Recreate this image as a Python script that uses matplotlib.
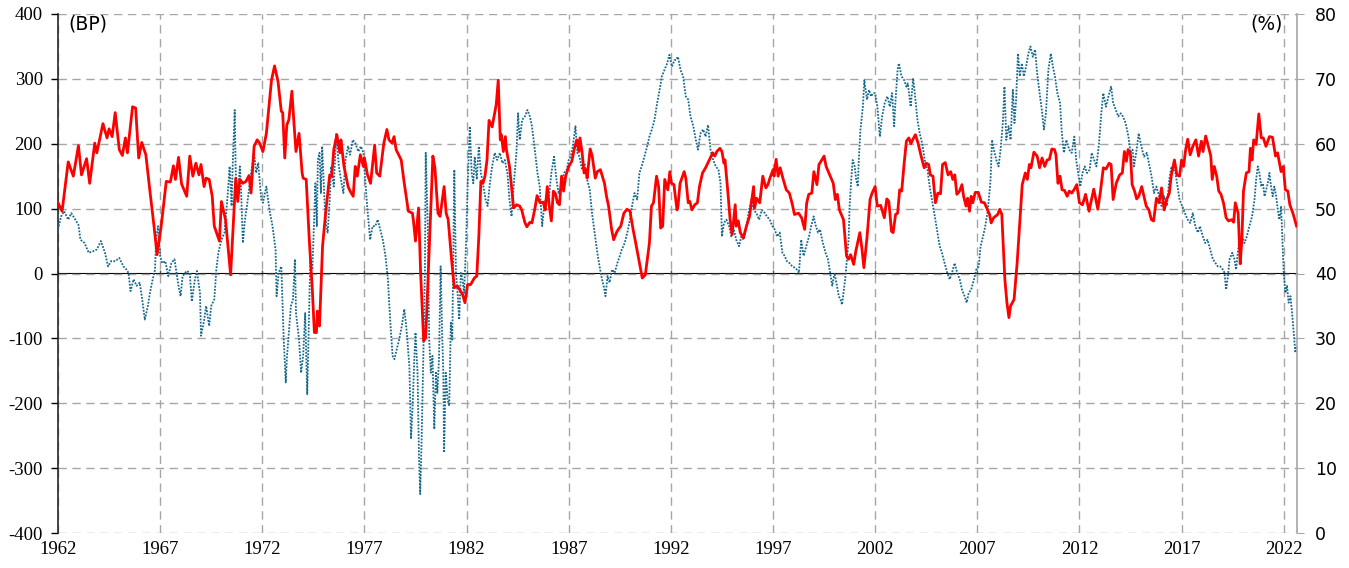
import matplotlib
matplotlib.use("Agg")
import matplotlib.pyplot as plt

# ---------------- data ----------------
# Red series (right axis, %)
red_years = [1962.0, 1962.2, 1962.5, 1962.75, 1963.0, 1963.15, 1963.4, 1963.55, 1963.8, 1963.9,
             1964.2, 1964.4, 1964.5, 1964.65, 1964.8, 1965.0, 1965.15, 1965.3, 1965.4, 1965.65,
             1965.8, 1965.95, 1966.1, 1966.3, 1966.5, 1966.7, 1966.85, 1967.05, 1967.3, 1967.5,
             1967.65, 1967.75, 1967.9, 1968.05, 1968.3, 1968.45, 1968.6, 1968.75, 1968.9, 1969.0,
             1969.15, 1969.25, 1969.4, 1969.55, 1969.65, 1969.9, 1970.0, 1970.2, 1970.45, 1970.7,
             1970.8, 1970.9, 1971.05, 1971.2, 1971.35, 1971.45, 1971.6, 1971.75, 1971.87, 1972.03,
             1972.2, 1972.45, 1972.6, 1972.77, 1972.93, 1973.0, 1973.1, 1973.2, 1973.3, 1973.45,
             1973.55, 1973.65, 1973.8, 1973.95, 1974.0, 1974.15, 1974.3, 1974.45, 1974.55, 1974.65,
             1974.7, 1974.8, 1974.95, 1975.1, 1975.3, 1975.4, 1975.5, 1975.65, 1975.8, 1975.85,
             1976.0, 1976.2, 1976.3, 1976.45, 1976.55, 1976.65, 1976.8, 1976.95, 1977.0, 1977.15,
             1977.3, 1977.5, 1977.6, 1977.75, 1977.95, 1978.1, 1978.2, 1978.35, 1978.45, 1978.55,
             1978.8, 1978.95, 1979.15, 1979.35, 1979.4, 1979.5, 1979.65, 1979.75, 1979.9, 1980.0,
             1980.15, 1980.25, 1980.35, 1980.45, 1980.6, 1980.7, 1980.9, 1981.0, 1981.1, 1981.25,
             1981.4, 1981.55, 1981.7, 1981.8, 1981.92, 1982.05, 1982.2, 1982.38, 1982.5, 1982.6,
             1982.7, 1982.8, 1982.9, 1983.0, 1983.1, 1983.25, 1983.45, 1983.55, 1983.65, 1983.7,
             1983.8, 1983.9, 1983.95, 1984.1, 1984.2, 1984.3, 1984.45, 1984.6, 1984.7, 1984.85,
             1984.95, 1985.1, 1985.2, 1985.35, 1985.45, 1985.6, 1985.75, 1985.85, 1985.95, 1986.05,
             1986.15, 1986.25, 1986.35, 1986.45, 1986.55, 1986.65, 1986.75, 1986.85, 1987.0, 1987.15,
             1987.3, 1987.4, 1987.5, 1987.55, 1987.65, 1987.75, 1987.85, 1987.9, 1988.05, 1988.15,
             1988.3, 1988.4, 1988.55, 1988.75, 1988.85, 1988.95, 1989.1, 1989.2, 1989.35, 1989.45,
             1989.55, 1989.7, 1989.85, 1990.0, 1990.15, 1990.25, 1990.4, 1990.5, 1990.6, 1990.75,
             1990.85, 1990.95, 1991.05, 1991.15, 1991.3, 1991.4, 1991.5, 1991.6, 1991.7, 1991.85,
             1991.95, 1992.03, 1992.15, 1992.3, 1992.35, 1992.45, 1992.65, 1992.73, 1992.85, 1992.93,
             1993.03, 1993.17, 1993.3, 1993.4, 1993.55, 1993.7, 1993.85, 1994.05, 1994.15, 1994.25,
             1994.4, 1994.5, 1994.6, 1994.65, 1994.8, 1994.9, 1995.0, 1995.15, 1995.2, 1995.3,
             1995.4, 1995.55, 1995.7, 1995.85, 1995.95, 1996.05, 1996.1, 1996.2, 1996.35, 1996.5,
             1996.65, 1996.75, 1996.85, 1997.0, 1997.05, 1997.15, 1997.25, 1997.35, 1997.5, 1997.65,
             1997.8, 1997.95, 1998.05, 1998.25, 1998.4, 1998.55, 1998.65, 1998.75, 1998.9, 1999.0,
             1999.15, 1999.25, 1999.35, 1999.5, 1999.6, 1999.8, 1999.95, 2000.05, 2000.15, 2000.25,
             2000.45, 2000.6, 2000.7, 2000.8, 2000.95, 2001.05, 2001.25, 2001.35, 2001.45, 2001.6,
             2001.75, 2001.85, 2002.0, 2002.1, 2002.27, 2002.45, 2002.57, 2002.67, 2002.8, 2002.88,
             2003.0, 2003.1, 2003.2, 2003.3, 2003.42, 2003.53, 2003.65, 2003.75, 2003.85, 2003.97,
             2004.1, 2004.25, 2004.4, 2004.5, 2004.62, 2004.7, 2004.83, 2004.95, 2005.07, 2005.2,
             2005.3, 2005.43, 2005.57, 2005.7, 2005.8, 2005.9, 2006.0, 2006.13, 2006.25, 2006.33,
             2006.45, 2006.53, 2006.62, 2006.7, 2006.78, 2006.9, 2007.05, 2007.2, 2007.35, 2007.5,
             2007.6, 2007.68, 2007.8, 2008.0, 2008.1, 2008.2, 2008.35, 2008.45, 2008.55, 2008.63,
             2008.8, 2008.95, 2009.07, 2009.2, 2009.35, 2009.45, 2009.55, 2009.63, 2009.77, 2009.93,
             2010.05, 2010.17, 2010.3, 2010.42, 2010.53, 2010.65, 2010.78, 2010.85, 2010.95, 2011.05,
             2011.15, 2011.27, 2011.4, 2011.5, 2011.63, 2011.75, 2011.87, 2012.0, 2012.15, 2012.3,
             2012.47, 2012.7, 2012.9, 2013.03, 2013.17, 2013.3, 2013.45, 2013.55, 2013.65, 2013.8,
             2013.97, 2014.1, 2014.2, 2014.3, 2014.38, 2014.5, 2014.58, 2014.7, 2014.8, 2014.9,
             2015.05, 2015.15, 2015.27, 2015.4, 2015.52, 2015.63, 2015.77, 2015.9, 2016.02, 2016.15,
             2016.27, 2016.4, 2016.5, 2016.65, 2016.77, 2016.9, 2017.0, 2017.1, 2017.2, 2017.3,
             2017.42, 2017.55, 2017.7, 2017.83, 2017.97, 2018.05, 2018.18, 2018.33, 2018.43, 2018.5,
             2018.6, 2018.72, 2018.82, 2018.93, 2019.05, 2019.18, 2019.3, 2019.45, 2019.55, 2019.63,
             2019.77, 2019.87, 2019.95, 2020.03, 2020.17, 2020.3, 2020.37, 2020.45, 2020.53, 2020.65,
             2020.78, 2020.9, 2021.0, 2021.13, 2021.3, 2021.45, 2021.6, 2021.7, 2021.87, 2021.98,
             2022.08, 2022.2, 2022.3, 2022.45, 2022.63]
red_pct = [50.9, 49.6, 57.2, 55.0, 59.7, 55.2, 57.7, 53.9, 60.1, 58.6,
           63.1, 60.9, 62.3, 61.1, 64.8, 59.1, 58.2, 60.9, 58.6, 65.7,
           65.5, 57.8, 60.2, 58.3, 52.7, 47.3, 42.9, 47.3, 54.2, 54.1,
           56.6, 54.5, 57.9, 53.8, 51.9, 58.1, 55.0, 57.0, 55.2, 56.8,
           53.4, 54.7, 54.5, 51.9, 47.3, 45.0, 51.1, 48.3, 39.8, 54.7,
           51.1, 54.5, 53.9, 54.2, 55.1, 52.4, 59.6, 60.6, 60.1, 58.8,
           61.6, 69.8, 72.0, 69.6, 65.0, 64.8, 57.8, 62.9, 63.7, 68.1,
           63.2, 58.8, 61.6, 55.5, 54.7, 54.5, 45.2, 37.5, 30.9, 30.9,
           34.2, 31.9, 44.2, 49.3, 55.2, 55.0, 59.1, 61.4, 58.6, 60.6,
           56.5, 53.4, 52.7, 51.9, 56.5, 55.0, 58.3, 56.5, 57.8, 55.2,
           53.9, 59.8, 55.5, 55.0, 60.1, 62.2, 60.6, 60.1, 61.1, 59.1,
           57.5, 53.9, 49.6, 49.3, 48.1, 45.0, 50.1, 40.1, 29.6, 30.1,
           42.2, 50.4, 58.1, 56.3, 49.3, 48.8, 53.4, 49.3, 48.3, 42.7,
           37.8, 38.1, 37.3, 36.8, 35.5, 38.3, 38.3, 39.3, 39.6, 45.7,
           54.2, 53.9, 55.0, 57.5, 63.6, 62.6, 66.0, 69.8, 60.6, 61.4,
           58.8, 61.1, 59.1, 56.5, 53.4, 50.1, 50.6, 50.4, 49.8, 47.9,
           47.2, 47.9, 47.8, 50.1, 52.0, 50.9, 51.0, 49.8, 53.4, 50.4,
           48.1, 52.7, 52.3, 50.9, 50.6, 55.0, 52.7, 55.0, 56.5, 57.3,
           59.6, 60.6, 58.8, 60.9, 58.8, 55.5, 56.0, 54.7, 59.2, 58.1,
           54.7, 55.7, 56.0, 53.9, 51.9, 50.4, 46.8, 45.2, 46.4, 46.9,
           47.3, 49.3, 49.9, 49.6, 46.8, 45.2, 42.7, 41.1, 39.3, 39.8,
           42.2, 44.7, 50.4, 50.9, 55.0, 53.4, 47.0, 47.3, 54.5, 52.9,
           55.7, 53.9, 53.7, 49.8, 50.4, 53.9, 55.7, 54.7, 50.9, 51.1,
           49.8, 50.6, 50.9, 53.4, 55.5, 56.3, 57.3, 58.6, 58.1, 58.8,
           59.3, 58.8, 57.0, 57.5, 52.2, 48.3, 46.0, 50.6, 47.3, 48.1,
           46.3, 45.5, 47.3, 48.8, 51.1, 53.4, 50.1, 51.6, 50.9, 55.0,
           53.2, 53.7, 54.7, 56.0, 55.0, 57.6, 55.0, 56.3, 54.5, 52.9,
           52.4, 50.6, 49.1, 49.3, 48.6, 46.8, 50.9, 52.2, 52.4, 55.7,
           53.7, 56.8, 57.3, 58.1, 56.5, 55.0, 53.9, 51.4, 52.2, 49.8,
           48.3, 42.7, 42.2, 42.9, 41.4, 43.4, 46.3, 43.9, 40.9, 45.5,
           51.4, 52.4, 53.4, 50.4, 50.5, 48.6, 51.5, 51.1, 46.5, 46.3,
           49.1, 49.3, 52.9, 52.7, 57.0, 60.4, 60.9, 60.0, 60.7, 61.4,
           60.1, 58.1, 56.3, 57.0, 56.8, 55.2, 55.0, 50.9, 52.4, 52.3,
           56.8, 57.1, 55.2, 55.7, 54.5, 55.2, 52.2, 52.7, 53.7, 51.9,
           50.4, 51.6, 49.6, 51.9, 50.9, 52.5, 52.5, 51.0, 50.9, 49.8,
           49.1, 47.8, 48.6, 49.1, 49.9, 49.1, 39.1, 35.5, 33.2, 35.0,
           36.0, 41.6, 47.3, 53.7, 55.5, 54.5, 56.8, 56.3, 58.7, 58.1,
           56.3, 57.8, 56.5, 57.5, 57.6, 59.2, 59.1, 58.3, 53.9, 55.0,
           52.9, 52.8, 51.9, 52.7, 52.4, 53.0, 53.7, 50.9, 50.6, 52.2,
           49.6, 53.0, 49.9, 52.7, 56.3, 56.1, 57.0, 56.8, 51.4, 53.9,
           55.2, 55.5, 58.8, 57.3, 59.1, 58.3, 53.7, 52.7, 51.5, 51.9,
           53.4, 52.0, 50.4, 49.8, 48.3, 48.1, 51.6, 50.9, 53.2, 49.8,
           51.4, 52.4, 55.2, 57.5, 55.2, 55.0, 57.5, 56.5, 59.1, 60.7,
           58.3, 59.6, 60.6, 58.1, 60.4, 58.8, 61.2, 59.3, 58.1, 54.5,
           56.5, 55.0, 52.7, 52.2, 50.9, 48.6, 48.1, 48.3, 47.9, 50.9,
           49.3, 41.5, 45.2, 52.7, 55.5, 55.7, 59.3, 57.5, 60.6, 59.9,
           64.6, 60.9, 60.9, 59.6, 61.1, 61.0, 58.1, 58.6, 55.7, 56.5,
           52.9, 52.7, 50.6, 49.3, 47.3]

# Blue dotted series (left axis, BP)
blue_years = [1962.0, 1962.15, 1962.3, 1962.5, 1962.65, 1962.85, 1963.0, 1963.1, 1963.3, 1963.5,
              1963.7, 1963.9, 1964.1, 1964.3, 1964.45, 1964.6, 1964.8, 1965.0, 1965.2, 1965.35,
              1965.45, 1965.55, 1965.7, 1965.85, 1966.0, 1966.1, 1966.25, 1966.4, 1966.5, 1966.6,
              1966.75, 1966.8, 1966.9, 1967.0, 1967.1, 1967.25, 1967.4, 1967.55, 1967.7, 1967.9,
              1968.0, 1968.1, 1968.3, 1968.45, 1968.55, 1968.7, 1968.8, 1968.95, 1969.0, 1969.15,
              1969.25, 1969.4, 1969.5, 1969.65, 1969.75, 1969.85, 1970.0, 1970.15, 1970.3, 1970.4,
              1970.5, 1970.55, 1970.65, 1970.7, 1970.8, 1970.9, 1970.95, 1971.05, 1971.15, 1971.25,
              1971.45, 1971.6, 1971.7, 1971.8, 1971.95, 1972.03, 1972.2, 1972.35, 1972.5, 1972.65,
              1972.7, 1972.8, 1972.93, 1973.05, 1973.15, 1973.2, 1973.3, 1973.4, 1973.5, 1973.6,
              1973.65, 1973.8, 1973.9, 1974.0, 1974.1, 1974.2, 1974.3, 1974.35, 1974.45, 1974.55,
              1974.6, 1974.67, 1974.72, 1974.8, 1974.87, 1974.93, 1975.05, 1975.13, 1975.2, 1975.3,
              1975.37, 1975.5, 1975.62, 1975.75, 1975.85, 1975.97, 1976.07, 1976.2, 1976.3, 1976.43,
              1976.55, 1976.7, 1976.83, 1976.95, 1977.05, 1977.15, 1977.28, 1977.4, 1977.53, 1977.65,
              1977.77, 1977.9, 1978.03, 1978.15, 1978.22, 1978.3, 1978.38, 1978.47, 1978.58, 1978.7,
              1978.83, 1978.95, 1979.03, 1979.1, 1979.2, 1979.28, 1979.36, 1979.44, 1979.5, 1979.6,
              1979.67, 1979.73, 1979.8, 1979.88, 1979.96, 1980.0, 1980.1, 1980.17, 1980.25, 1980.33,
              1980.42, 1980.5, 1980.57, 1980.65, 1980.73, 1980.8, 1980.86, 1980.9, 1980.98, 1981.07,
              1981.15, 1981.23, 1981.3, 1981.4, 1981.48, 1981.56, 1981.64, 1981.72, 1981.8, 1981.88,
              1981.97, 1982.05, 1982.16, 1982.25, 1982.33, 1982.4, 1982.5, 1982.6, 1982.7, 1982.8,
              1982.93, 1983.03, 1983.14, 1983.25, 1983.38, 1983.5, 1983.63, 1983.75, 1983.87, 1984.0,
              1984.1, 1984.2, 1984.33, 1984.44, 1984.52, 1984.6, 1984.72, 1984.85, 1984.98, 1985.1,
              1985.2, 1985.34, 1985.47, 1985.58, 1985.7, 1985.8, 1985.9, 1986.02, 1986.15, 1986.28,
              1986.4, 1986.5, 1986.64, 1986.77, 1986.9, 1987.0, 1987.1, 1987.2, 1987.33, 1987.42,
              1987.53, 1987.65, 1987.78, 1987.9, 1988.03, 1988.14, 1988.27, 1988.4, 1988.51, 1988.63,
              1988.73, 1988.8, 1988.9, 1989.0, 1989.12, 1989.25, 1989.38, 1989.5, 1989.6, 1989.74,
              1989.87, 1990.0, 1990.1, 1990.22, 1990.35, 1990.46, 1990.57, 1990.7, 1990.84, 1990.95,
              1991.07, 1991.2, 1991.33, 1991.45, 1991.56, 1991.69, 1991.82, 1991.93, 1992.05, 1992.18,
              1992.25, 1992.35, 1992.47, 1992.6, 1992.73, 1992.85, 1992.96, 1993.1, 1993.22, 1993.33,
              1993.45, 1993.58, 1993.7, 1993.82, 1993.94, 1994.07, 1994.2, 1994.33, 1994.43, 1994.5,
              1994.6, 1994.72, 1994.85, 1994.96, 1995.08, 1995.2, 1995.34, 1995.45, 1995.57, 1995.7,
              1995.83, 1995.94, 1996.05, 1996.19, 1996.32, 1996.45, 1996.6, 1996.7, 1996.84, 1996.97,
              1997.08, 1997.2, 1997.33, 1997.46, 1997.57, 1997.68, 1997.81, 1997.94, 1998.06, 1998.17,
              1998.27, 1998.38, 1998.5, 1998.63, 1998.76, 1998.87, 1998.99, 1999.08, 1999.2, 1999.3,
              1999.44, 1999.57, 1999.69, 1999.8, 1999.9, 2000.01, 2000.13, 2000.22, 2000.3, 2000.38,
              2000.45, 2000.53, 2000.62, 2000.7, 2000.75, 2000.83, 2000.9, 2001.0, 2001.07, 2001.15,
              2001.2, 2001.28, 2001.4, 2001.47, 2001.6, 2001.7, 2001.8, 2001.9, 2002.0, 2002.11,
              2002.23, 2002.34, 2002.47, 2002.6, 2002.72, 2002.83, 2002.93, 2003.0, 2003.1, 2003.16,
              2003.29, 2003.42, 2003.53, 2003.6, 2003.74, 2003.86, 2003.94, 2004.07, 2004.18, 2004.3,
              2004.43, 2004.56, 2004.67, 2004.78, 2004.92, 2005.05, 2005.16, 2005.27, 2005.4, 2005.53,
              2005.65, 2005.76, 2005.89, 2006.02, 2006.14, 2006.25, 2006.38, 2006.48, 2006.58, 2006.7,
              2006.84, 2006.95, 2007.07, 2007.16, 2007.28, 2007.39, 2007.52, 2007.65, 2007.72, 2007.81,
              2007.93, 2008.04, 2008.14, 2008.25, 2008.33, 2008.42, 2008.53, 2008.63, 2008.74, 2008.82,
              2008.9, 2008.99, 2009.08, 2009.18, 2009.28, 2009.39, 2009.5, 2009.6, 2009.72, 2009.83,
              2009.93, 2010.05, 2010.16, 2010.26, 2010.36, 2010.48, 2010.6, 2010.7, 2010.8, 2010.92,
              2011.05, 2011.14, 2011.24, 2011.36, 2011.5, 2011.62, 2011.75, 2011.84, 2011.94, 2012.04,
              2012.15, 2012.26, 2012.37, 2012.5, 2012.6, 2012.72, 2012.83, 2012.96, 2013.07, 2013.17,
              2013.3, 2013.42, 2013.55, 2013.65, 2013.78, 2013.9, 2014.02, 2014.13, 2014.26, 2014.4,
              2014.5, 2014.6, 2014.67, 2014.8, 2014.9, 2015.03, 2015.16, 2015.3, 2015.4, 2015.53,
              2015.65, 2015.77, 2015.9, 2016.02, 2016.15, 2016.28, 2016.4, 2016.5, 2016.6, 2016.7,
              2016.8, 2016.9, 2017.03, 2017.16, 2017.3, 2017.42, 2017.55, 2017.67, 2017.8, 2017.9,
              2018.04, 2018.16, 2018.27, 2018.4, 2018.53, 2018.66, 2018.77, 2018.89, 2019.02, 2019.1,
              2019.18, 2019.27, 2019.35, 2019.48, 2019.59, 2019.67, 2019.75, 2019.83, 2019.96, 2020.08,
              2020.19, 2020.32, 2020.45, 2020.57, 2020.65, 2020.73, 2020.81, 2020.9, 2020.98, 2021.06,
              2021.14, 2021.22, 2021.3, 2021.38, 2021.46, 2021.54, 2021.63, 2021.71, 2021.79, 2021.87,
              2021.95, 2022.0, 2022.08, 2022.16, 2022.24, 2022.33, 2022.41, 2022.49, 2022.57, 2022.63]
blue_bp = [68, 88, 96, 83, 93, 83, 75, 52, 47, 32,
           34, 37, 50, 32, 11, 19, 19, 24, 11, 6,
           1, -27, -9, -19, -14, -35, -71, -50, -30, -14,
           6, 52, 73, 27, 16, 19, -4, 16, 22, -19,
           -35, -4, 4, 1, -43, -9, 4, -30, -96, -73,
           -50, -81, -50, -40, 6, 32, 52, 63, 119, 165,
           104, 165, 252, 155, 114, 165, 139, 47, 83, 104,
           155, 186, 155, 170, 114, 109, 134, 98, 73, 37,
           -35, 1, 11, -102, -168, -132, -91, -50, -40, 22,
           -61, -102, -153, -127, -61, -186, -50, 22, 6, 93,
           139, 73, 175, 186, 124, 196, 109, 73, 63, 114,
           165, 134, 216, 165, 145, 124, 175, 196, 183, 206,
           201, 188, 196, 186, 139, 98, 52, 73, 73, 83,
           68, 52, 27, -9, -50, -91, -127, -132, -117, -102,
           -81, -55, -76, -102, -143, -255, -204, -132, -91, -153,
           -281, -340, -255, -132, 1, 186, 73, -102, -153, -127,
           -240, -153, -184, -132, 11, -86, -153, -276, -153, -194,
           -204, -76, -102, 160, 1, -30, -71, 1, -9, -30,
           42, 134, 227, 155, 139, 180, 145, 196, 155, 139,
           114, 104, 139, 165, 186, 175, 186, 170, 175, 155,
           114, 88, 145, 186, 247, 206, 237, 242, 252, 242,
           227, 191, 155, 134, 73, 104, 119, 114, 155, 180,
           145, 124, 134, 155, 160, 175, 180, 196, 227, 186,
           180, 160, 170, 145, 129, 93, 63, 32, 11, -9,
           -22, -35, -4, -14, 6, 1, 16, 27, 37, 47,
           63, 83, 104, 124, 114, 155, 165, 180, 196, 211,
           222, 237, 263, 283, 304, 314, 324, 337, 319, 329,
           329, 334, 314, 304, 273, 268, 242, 227, 206, 191,
           216, 222, 211, 229, 191, 175, 165, 160, 139, 57,
           78, 83, 73, 57, 68, 52, 42, 57, 52, 73,
           98, 114, 98, 93, 83, 98, 93, 88, 83, 73,
           68, 57, 63, 32, 27, 19, 16, 11, 9, 6,
           1, 52, 27, 42, 57, 73, 88, 75, 63, 68,
           47, 32, 22, 1, -19, 1, -19, -35, -40, -48,
           -30, -9, 22, 52, 104, 145, 175, 165, 145, 134,
           175, 222, 257, 298, 268, 283, 273, 278, 278, 257,
           211, 242, 263, 273, 257, 278, 227, 268, 314, 324,
           304, 298, 288, 293, 257, 301, 278, 237, 216, 201,
           175, 160, 134, 114, 88, 63, 42, 32, 16, 1,
           -9, 1, 16, 1, -9, -25, -35, -45, -30, -25,
           -9, 6, 11, 42, 57, 73, 98, 145, 206, 191,
           175, 165, 191, 232, 288, 206, 227, 206, 283, 232,
           268, 339, 304, 324, 304, 319, 339, 350, 334, 345,
           309, 278, 252, 222, 247, 314, 339, 319, 304, 278,
           263, 216, 186, 206, 191, 186, 211, 175, 155, 134,
           155, 165, 155, 160, 186, 175, 165, 201, 247, 278,
           257, 273, 288, 263, 252, 242, 247, 242, 232, 211,
           186, 191, 165, 191, 216, 196, 180, 186, 170, 150,
           124, 134, 119, 104, 119, 104, 145, 165, 160, 155,
           134, 114, 104, 93, 83, 78, 93, 73, 63, 73,
           57, 47, 52, 37, 22, 16, 11, 11, 6, 1,
           -25, -4, 22, 32, 22, 6, 32, 52, 57, 47,
           57, 73, 88, 114, 145, 165, 155, 134, 139, 119,
           129, 139, 155, 134, 119, 134, 119, 98, 83, 104,
           42, 1, -30, -19, -45, -35, -61, -91, -122, -112]

left_ticks = [-400, -300, -200, -100, 0, 100, 200, 300, 400]
right_ticks = [0, 10, 20, 30, 40, 50, 60, 70, 80]
year_ticks = [1962, 1967, 1972, 1977, 1982, 1987, 1992, 1997, 2002, 2007, 2012, 2017, 2022]

# ---------------- figure ----------------
W, H = 1349, 568
fig = plt.figure(figsize=(W / 100, H / 100), dpi=100)
ax = fig.add_axes([58 / W, 1 - 533 / H, (1297 - 58) / W, (533 - 14) / H])
ax2 = ax.twinx()

serif = "Liberation Serif"
sans = "DejaVu Sans"
grid_color = "#a6a6a6"

ax.set_xlim(1962.0, 2022.65)
ax.set_ylim(-400, 400)
ax2.set_ylim(0, 80)

# grid
ax.set_yticks(left_ticks)
ax.set_yticklabels([str(v) for v in left_ticks], fontfamily=serif, fontsize=13.5)
ax.set_xticks(year_ticks)
ax.set_xticklabels([str(v) for v in year_ticks], fontfamily=serif, fontsize=13.5)
ax.grid(True, color=grid_color, linestyle=(0, (6, 4)), linewidth=1.0)
ax.set_axisbelow(True)
ax.tick_params(axis="x", length=0, pad=6, colors="black")
ax.tick_params(axis="y", length=5, direction="out", colors="black", width=1, pad=6)

# zero line with small tick marks (axis crossing at 0)
zero_ax = ax.secondary_xaxis(0.5)
zero_ax.set_xticks(year_ticks)
zero_ax.set_xticklabels([])
zero_ax.tick_params(length=4, direction="inout", color="#595959", width=1)
zero_ax.spines["bottom"].set_color("#595959")
zero_ax.spines["bottom"].set_linewidth(1.3)

for s in ["top", "bottom"]:
    ax.spines[s].set_visible(False)
    ax2.spines[s].set_visible(False)
ax.spines["right"].set_visible(False)
ax.spines["left"].set_color("#262626")
ax.spines["left"].set_linewidth(1.2)
ax2.spines["left"].set_visible(False)
ax2.spines["right"].set_color("#a6a6a6")
ax2.spines["right"].set_linewidth(1.2)

ax2.set_yticks(right_ticks)
ax2.set_yticklabels([str(v) for v in right_ticks], fontfamily=sans, fontsize=12.5)
ax2.tick_params(axis="y", length=5, direction="out", color="#a6a6a6", pad=8)

# series
ax.plot(blue_years, blue_bp, color="#17698c", linestyle=(0, (1, 0.8)), linewidth=1.3, zorder=3)
ax2.plot(red_years, red_pct, color="#ff0000", linewidth=2.0, zorder=4)

# unit labels
ax.text(68 / W, 1 - 24 / H, "(BP)", transform=fig.transFigure, fontfamily=sans,
        fontsize=13.5, ha="left", va="center")
ax.text(1283 / W, 1 - 24 / H, "(%)", transform=fig.transFigure, fontfamily=sans,
        fontsize=13.5, ha="right", va="center")

fig.savefig("out.png", dpi=100, facecolor="white")
